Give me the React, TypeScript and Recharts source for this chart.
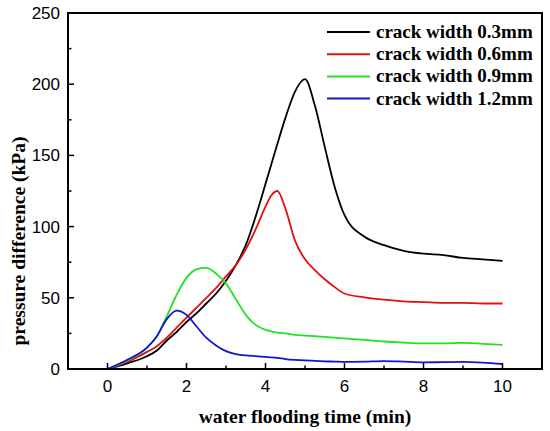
import React from "react"
import { LineChart, Line, XAxis, YAxis } from "recharts"

// water flooding time (min)
const times = [0, 0.5, 1, 1.25, 1.5, 1.75, 2, 2.25, 2.5, 2.75, 3, 3.25, 3.5, 3.75, 4, 4.15, 4.3, 4.5, 4.75, 5, 5.25, 5.5, 5.75, 6, 6.5, 7, 7.5, 8, 8.5, 9, 9.5, 10]

// pressure difference (kPa) per crack width
const width03 = [0, 4, 9, 13, 20, 26, 33, 39, 46, 53, 62, 73, 87, 107, 130, 144, 158, 176, 195, 203.5, 185, 156, 128, 108, 93, 87, 83, 81, 80, 78, 77, 76]
const width06 = [0, 5, 12, 16, 22, 29, 36, 43, 50, 57, 65, 73, 84, 98, 114, 122, 125, 113, 90, 77, 69.5, 63, 57.5, 53, 50.3, 48.7, 47.5, 47, 46.5, 46.5, 46, 46]
const width09 = [0, 6, 15, 23, 37, 52, 64, 70, 71, 67, 60, 49, 38, 31, 27.5, 26.5, 25.5, 25, 24, 23.5, 23, 22.5, 22, 21.5, 20.5, 19.3, 18.5, 18, 18, 18.3, 17.7, 17]
const width12 = [0, 6.5, 15, 23, 35, 41, 38, 30, 22, 16.5, 12.5, 10.5, 9.5, 9, 8.5, 8.2, 7.8, 7, 6.4, 6, 5.7, 5.4, 5.2, 5, 5.2, 5.6, 5.2, 4.7, 4.8, 5, 4.5, 3.5]

const xTicks = [0, 1, 2, 3, 4, 5, 6, 7, 8, 9, 10]
const yTicks = [0, 25, 50, 75, 100, 125, 150, 175, 200, 225, 250]

const series = [
  { key: "w03", name: "crack width 0.3mm", color: "#000000", values: width03 },
  { key: "w06", name: "crack width 0.6mm", color: "#e01010", values: width06 },
  { key: "w09", name: "crack width 0.9mm", color: "#22e022", values: width09 },
  { key: "w12", name: "crack width 1.2mm", color: "#1414d0", values: width12 },
]

const data = times.map((t, i) => {
  const row: Record<string, number> = { t }
  series.forEach((s) => (row[s.key] = s.values[i]))
  return row
})

const tickFont = "'Liberation Sans', Arial, sans-serif"
const labelFont = "'Liberation Serif', 'Times New Roman', serif"

function XTick(props: any) {
  const { x, y, payload } = props
  const major = payload.value % 2 === 0
  return (
    <g>
      <line x1={x} x2={x} y1={y} y2={y - (major ? 6 : 3.5)} stroke="#000" strokeWidth={1.5} />
      {major && (
        <text x={x} y={y + 23} textAnchor="middle" fontFamily={tickFont} fontSize={17} fill="#000">
          {payload.value}
        </text>
      )}
    </g>
  )
}

function YTick(props: any) {
  const { x, y, payload } = props
  const major = payload.value % 50 === 0
  return (
    <g>
      <line x1={x} x2={x + (major ? 6 : 3.5)} y1={y} y2={y} stroke="#000" strokeWidth={1.5} />
      {major && (
        <text x={x - 8} y={y + 6} textAnchor="end" fontFamily={tickFont} fontSize={17} fill="#000">
          {payload.value}
        </text>
      )}
    </g>
  )
}

function YLabel(props: any) {
  const { viewBox } = props
  const cx = viewBox.x + 18
  const cy = viewBox.y + viewBox.height / 2 + 50
  return (
    <text
      x={cx}
      y={cy}
      transform={`rotate(-90, ${cx}, ${cy})`}
      textAnchor="middle"
      dominantBaseline="central"
      fontFamily={labelFont}
      fontWeight="bold"
      fontSize={19.5}
      fill="#000"
    >
      pressure difference (kPa)
    </text>
  )
}

function LegendBox() {
  return (
    <svg width={220} height={100} style={{ position: "absolute", left: 327, top: 22 }}>
      {series.map((s, i) => (
        <g key={s.key} transform={`translate(0, ${i * 22.2 + 10})`}>
          <line x1={0} x2={43} y1={0} y2={0} stroke={s.color} strokeWidth={2} />
          <text x={49} y={6} fontFamily={labelFont} fontWeight="bold" fontSize={19} fill="#000">
            {s.name}
          </text>
        </g>
      ))}
    </svg>
  )
}

export default function App() {
  return (
    <div style={{ position: "relative", width: 550, height: 431, background: "#fff" }}>
      <style>{`body{margin:0}`}</style>
      <LineChart width={550} height={431} data={data} margin={{ top: 13, right: 8, bottom: 0, left: 0 }}>
        <XAxis
          dataKey="t"
          type="number"
          domain={[-1, 11]}
          ticks={xTicks}
          interval={0}
          height={62}
          tickSize={0}
          tickMargin={0}
          tickLine={false}
          axisLine={false}
          tick={<XTick />}
          label={{
            value: "water flooding time (min)",
            position: "insideBottom",
            offset: 8,
            style: { fontFamily: labelFont, fontWeight: "bold", fontSize: 19.5, fill: "#000" },
          }}
        />
        <YAxis
          type="number"
          domain={[0, 250]}
          ticks={yTicks}
          interval={0}
          width={68}
          tickSize={0}
          tickMargin={0}
          tickLine={false}
          axisLine={false}
          tick={<YTick />}
          label={<YLabel />}
        />
        {series.map((s) => (
          <Line
            key={s.key}
            type="monotone"
            dataKey={s.key}
            name={s.name}
            stroke={s.color}
            strokeWidth={1.8}
            dot={false}
            isAnimationActive={false}
          />
        ))}
      </LineChart>
      {/* plot frame: margin.left + axis width = 68, top 13, right 542, bottom 369 */}
      <div
        style={{
          position: "absolute",
          left: 67,
          top: 12,
          width: 476,
          height: 358,
          border: "2px solid #000",
          boxSizing: "border-box",
          pointerEvents: "none",
        }}
      />
      <LegendBox />
    </div>
  )
}
